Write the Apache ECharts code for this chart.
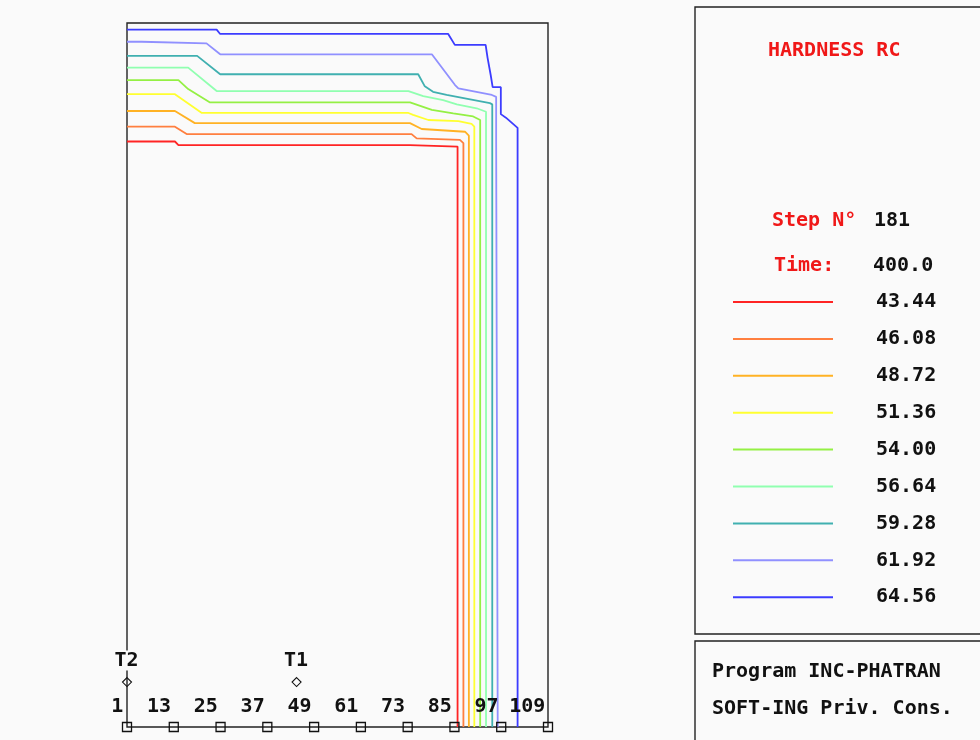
<!DOCTYPE html>
<html>
<head>
<meta charset="utf-8">
<title>HARDNESS RC</title>
<script src="https://cdn.jsdelivr.net/npm/echarts@6/dist/echarts.min.js"></script>
<style>
	html,body{margin:0;padding:0;background:#fafafa;}
	#main{width:980px;height:740px;}
</style>
</head>
<body>
<div id="main"></div>
<script>
//节点刻度
var nodeTicks = [1, 13, 25, 37, 49, 61, 73, 85, 97, 109];
//测温点
var markerNames = ['T2', 'T1'];
var markerX = [1, 44.5];
var markerY = 11.5;
//等值线数值
var levels = ['43.44', '46.08', '48.72', '51.36', '54.00', '56.64', '59.28', '61.92', '64.56'];
var colors = ['#ff2424', '#ff7f3f', '#ffb224', '#ffff30', '#94f044', '#90ffb0', '#40b0b0', '#9090ff', '#3c3cff'];
//每条等值线的点 [节点, 高度]
var line4344 = [[1,149.7],[13.3,149.7],[14.2,148.8],[73.6,148.8],[74,148.4],[85.8,148.4],[85.8,0]];
var line4608 = [[1,153.5],[13.3,153.5],[16.3,151.6],[74,151.6],[75.3,150.5],[86.4,150.1],[87.3,149.3],[87.3,0]];
var line4872 = [[1,157.5],[13.3,157.5],[18.4,154.4],[73.6,154.4],[76.6,152.9],[87.7,152.2],[88.7,151.2],[88.7,0]];
var line5136 = [[1,161.8],[13.3,161.8],[20.2,157],[73.2,157],[74.4,156.5],[78.3,155.2],[86,154.9],[89.4,154.2],[90.1,153.5],[90.1,0]];
var line5400 = [[1,165.4],[14.2,165.4],[16.7,163.1],[22.3,159.7],[73.6,159.7],[79.2,157.8],[84.7,156.9],[89.8,156.1],[91.6,155.2],[91.6,0]];
var line5664 = [[1,168.6],[16.7,168.6],[24,162.6],[73.2,162.6],[77,161.3],[82.1,160.3],[85.6,159.2],[90.7,158.2],[93.1,157.3],[93.1,0]];
var line5928 = [[1,171.6],[19,171.6],[24.9,166.9],[75.7,166.9],[77.4,163.8],[79.5,162.4],[83,161.6],[94.1,159.5],[94.7,159.2],[94.7,0]];
var line6192 = [[1,175.2],[4.8,175.2],[5.2,174.8],[21.4,174.8],[24.9,172],[79.2,172],[85.1,164.2],[86,163.3],[94.6,161.6],[95.7,161.1],[95.7,150.6],[96.1,150.2],[96.1,0]];
var line6456 = [[1,178.3],[24,178.3],[24.9,177.2],[83.4,177.2],[85.1,174.4],[93,174.4],[93.5,171.1],[94.3,166.7],[94.8,163.6],[96.9,163.6],[96.9,156.7],[98.2,155.8],[101.2,153.2],[101.2,0]];
var contours = [line4344, line4608, line4872, line5136, line5400, line5664, line5928, line6192, line6456];
//说明文字
var stepNo = '181';
var timeValue = '400.0';

var font = 'DejaVu Sans Mono';

var series = [];
for (var i = 0; i < contours.length; i++) {
	series.push({
		name: levels[i],
		type: 'line',
		color: colors[i],
		symbol: 'none',
		lineStyle: {width: 1.8, color: colors[i]},
		data: contours[i],
		z: 2
	});
}

//底部节点方块
var nodeData = [];
for (var i = 0; i < nodeTicks.length; i++) {
	var item = {value: [nodeTicks[i], 0]};
	if (i == 0) {
		item.label = {backgroundColor: '#fafafa', padding: [2, 1]};
	}
	nodeData.push(item);
}
series.push({
	name: 'nodes',
	type: 'scatter',
	symbol: 'rect',
	symbolSize: 9,
	itemStyle: {color: 'transparent', borderColor: '#111', borderWidth: 1.3, opacity: 1},
	label: {
		show: true,
		position: [2.5, -15.5],
		align: 'right',
		verticalAlign: 'middle',
		fontFamily: font,
		fontWeight: 'bold',
		fontSize: 20,
		color: '#111',
		formatter: function (p) { return p.value[0]; }
	},
	emphasis: {disabled: true},
	data: nodeData,
	z: 5
});

//测温点
var markerData = [];
for (var i = 0; i < markerNames.length; i++) {
	markerData.push({name: markerNames[i], value: [markerX[i], markerY]});
}
series.push({
	name: 'markers',
	type: 'scatter',
	symbol: 'diamond',
	symbolSize: [9, 9],
	itemStyle: {color: 'transparent', borderColor: '#111', borderWidth: 1.1, opacity: 1},
	label: {
		show: true,
		position: [4.5, -16.5],
		align: 'center',
		verticalAlign: 'middle',
		fontFamily: font,
		fontWeight: 'bold',
		fontSize: 20,
		color: '#111',
		backgroundColor: '#fafafa',
		padding: [0, 1],
		formatter: '{b}'
	},
	emphasis: {disabled: true},
	data: markerData,
	z: 5
});

var option = {
	backgroundColor: '#fafafa',
	animation: false,
	grid: {
		left: 127,
		top: 23,
		width: 421,
		height: 704,
		show: true,
		borderColor: '#222',
		borderWidth: 1.4,
		backgroundColor: 'transparent'
	},
	xAxis: {
		type: 'value',
		min: 1,
		max: 109,
		axisLine: {show: false},
		axisTick: {show: false},
		axisLabel: {show: false},
		splitLine: {show: false}
	},
	yAxis: {
		type: 'value',
		min: 0,
		max: 180,
		axisLine: {show: false},
		axisTick: {show: false},
		axisLabel: {show: false},
		splitLine: {show: false}
	},
	legend: {
		data: levels,
		orient: 'vertical',
		left: 733,
		top: 291,
		padding: 0,
		icon: 'rect',
		itemWidth: 100,
		itemHeight: 2,
		itemGap: 14.9,
		selectedMode: false,
		textStyle: {
			fontFamily: font,
			fontWeight: 'bold',
			fontSize: 20,
			lineHeight: 22,
			color: '#111',
			padding: [0, 0, 0, 38]
		}
	},
	graphic: [
		{type: 'rect', shape: {x: 695, y: 7, width: 320, height: 627}, style: {fill: 'none', stroke: '#222', lineWidth: 1.4}},
		{type: 'rect', shape: {x: 695, y: 641, width: 320, height: 140}, style: {fill: 'none', stroke: '#222', lineWidth: 1.4}},
		{type: 'text', left: 768, top: 41, style: {text: 'HARDNESS RC', fill: '#f01818', font: 'bold 20px "DejaVu Sans Mono"'}},
		{type: 'text', left: 772, top: 211, style: {text: 'Step N°', fill: '#f01818', font: 'bold 20px "DejaVu Sans Mono"'}},
		{type: 'text', left: 874, top: 211, style: {text: stepNo, fill: '#111', font: 'bold 20px "DejaVu Sans Mono"'}},
		{type: 'text', left: 774, top: 256, style: {text: 'Time:', fill: '#f01818', font: 'bold 20px "DejaVu Sans Mono"'}},
		{type: 'text', left: 873, top: 256, style: {text: timeValue, fill: '#111', font: 'bold 20px "DejaVu Sans Mono"'}},
		{type: 'text', left: 712, top: 662, style: {text: 'Program INC-PHATRAN', fill: '#111', font: 'bold 20px "DejaVu Sans Mono"'}},
		{type: 'text', left: 712, top: 699, style: {text: 'SOFT-ING Priv. Cons.', fill: '#111', font: 'bold 20px "DejaVu Sans Mono"'}}
	],
	series: series
};

var myChart = echarts.init(document.getElementById('main'));
myChart.setOption(option);
</script>
</body>
</html>
